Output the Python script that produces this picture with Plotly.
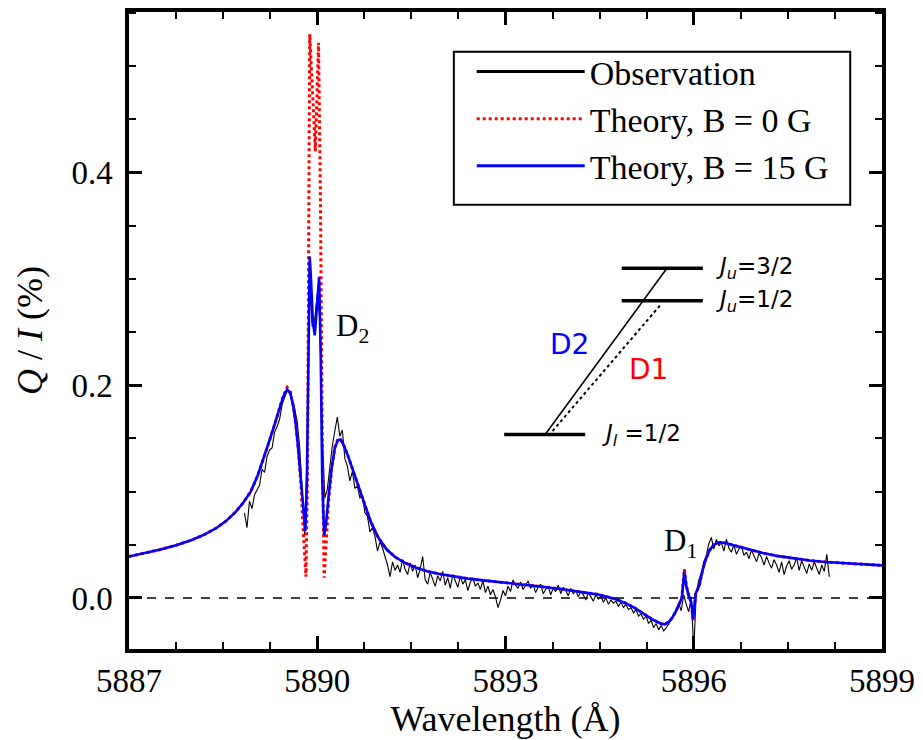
import plotly.graph_objects as go

# ---------------- data ----------------
obs_start = 5888.84
obs_step = 0.04
obs_q = [
    0.080, 0.066, 0.091, 0.084, 0.097, 0.101, 0.106, 0.121, 0.118, 0.133,
    0.139, 0.141, 0.156, 0.161, 0.168, 0.182, 0.189, 0.195, 0.192, 0.187,
    0.178, 0.166, 0.142, 0.104, 0.058, 0.140, 0.290, 0.255, 0.262, 0.286,
    0.262, 0.155, 0.094, 0.102, 0.125, 0.143, 0.157, 0.170, 0.152, 0.158,
    0.131, 0.124, 0.110, 0.119, 0.103, 0.105, 0.094, 0.096, 0.080, 0.077,
    0.062, 0.066, 0.058, 0.044, 0.053, 0.047, 0.039, 0.031, 0.020, 0.034,
    0.026, 0.031, 0.024, 0.036, 0.027, 0.022, 0.033, 0.025, 0.031, 0.019,
    0.027, 0.039, 0.017, 0.013, 0.024, 0.018, 0.011, 0.021, 0.016, 0.025,
    0.012, 0.019, 0.009, 0.022, 0.016, 0.010, 0.020, 0.013, 0.017, 0.007,
    0.015, 0.019, 0.011, 0.014, 0.008, 0.016, 0.005, 0.011, 0.003, 0.008,
    0.001, -0.009, -0.002, 0.007, 0.002, 0.011, 0.006, 0.017, 0.012, 0.009,
    0.015, 0.008, 0.012, 0.016, 0.009, 0.013, 0.005, 0.010, 0.013, 0.004,
    0.008, 0.011, 0.003, 0.009, 0.006, 0.012, 0.004, 0.010, 0.007, 0.002,
    0.009, 0.004, 0.007, 0.001, 0.006, 0.003, -0.002, 0.005, 0.001, -0.003,
    0.003, -0.001, 0.002, -0.004, 0.000, -0.006, -0.002, -0.005, -0.003, -0.008,
    -0.004, -0.009, -0.006, -0.011, -0.009, -0.014, -0.011, -0.017, -0.015, -0.020,
    -0.017, -0.024, -0.021, -0.028, -0.024, -0.030, -0.026, -0.031, -0.028, -0.025,
    -0.019, -0.017, -0.011, -0.005, -0.012, 0.003, -0.006, -0.013, 0.001, -0.049,
    0.004, 0.017, 0.023, 0.034, 0.040, 0.051, 0.057, 0.046, 0.055, 0.049,
    0.052, 0.044, 0.055, 0.047, 0.043, 0.050, 0.041, 0.046, 0.049, 0.040,
    0.043, 0.037, 0.045, 0.040, 0.034, 0.042, 0.038, 0.031, 0.039, 0.033,
    0.028, 0.036, 0.031, 0.024, 0.034, 0.022, 0.030, 0.035, 0.027, 0.031,
    0.038, 0.026, 0.035, 0.029, 0.023, 0.032, 0.026, 0.034, 0.028, 0.022,
    0.031, 0.025, 0.041, 0.020,
]
obs_wl = [round(obs_start + obs_step * i, 2) for i in range(len(obs_q))]

# Theory, B = 15 G
b15_wl = [
    5887.00, 5887.25, 5887.50, 5887.75, 5888.00, 5888.20, 5888.40, 5888.55, 5888.70, 5888.82,
    5888.94, 5889.05, 5889.15, 5889.25, 5889.33, 5889.40, 5889.46, 5889.52, 5889.57, 5889.62,
    5889.66, 5889.70, 5889.74, 5889.78, 5889.81, 5889.835, 5889.86, 5889.88, 5889.90, 5889.93,
    5889.96, 5889.99, 5890.03, 5890.055, 5890.08, 5890.11, 5890.14, 5890.18, 5890.23, 5890.28,
    5890.33, 5890.37, 5890.42, 5890.50, 5890.58, 5890.66, 5890.75, 5890.85, 5890.97, 5891.10,
    5891.24, 5891.40, 5891.55, 5891.75, 5891.95, 5892.15, 5892.40, 5892.65, 5892.90, 5893.15,
    5893.40, 5893.65, 5893.93, 5894.20, 5894.46, 5894.72, 5894.90, 5895.05, 5895.20, 5895.35,
    5895.47, 5895.54, 5895.60, 5895.66, 5895.72, 5895.77, 5895.81, 5895.85, 5895.88, 5895.92,
    5895.96, 5895.99, 5896.03, 5896.09, 5896.14, 5896.19, 5896.25, 5896.31, 5896.37, 5896.43,
    5896.52, 5896.62, 5896.75, 5896.90, 5897.10, 5897.35, 5897.60, 5897.85, 5898.10, 5898.40,
    5898.70, 5899.00,
]
b15_q = [
    0.0390, 0.0420, 0.0455, 0.0495, 0.0545, 0.0595, 0.0660, 0.0725, 0.0810, 0.0895,
    0.1000, 0.1150, 0.1320, 0.1500, 0.1650, 0.1790, 0.1895, 0.1960, 0.1930, 0.1800,
    0.1620, 0.1380, 0.1080, 0.0780, 0.0630, 0.1100, 0.2300, 0.3210, 0.3000, 0.2600,
    0.2470, 0.2750, 0.3020, 0.2300, 0.1100, 0.0590, 0.0700, 0.0950, 0.1220, 0.1410,
    0.1485, 0.1490, 0.1440, 0.1320, 0.1180, 0.1040, 0.0880, 0.0720, 0.0570, 0.0460,
    0.0385, 0.0330, 0.0290, 0.0252, 0.0226, 0.0204, 0.0182, 0.0165, 0.0150, 0.0136,
    0.0120, 0.0101, 0.0080, 0.0058, 0.0034, -0.0004, -0.0045, -0.0090, -0.0145, -0.0205,
    -0.0240, -0.0248, -0.0228, -0.0185, -0.0120, -0.0050, 0.0000, 0.0250, 0.0120, 0.0020,
    -0.0040, -0.0200, 0.0040, 0.0120, 0.0260, 0.0360, 0.0446, 0.0495, 0.0515, 0.0523,
    0.0515, 0.0497, 0.0475, 0.0450, 0.0422, 0.0393, 0.0370, 0.0352, 0.0338, 0.0325,
    0.0314, 0.0306,
]

# Theory, B = 0 G
b0_wl = [
    5887.00, 5887.25, 5887.50, 5887.75, 5888.00, 5888.20, 5888.40, 5888.55, 5888.70, 5888.82,
    5888.94, 5889.05, 5889.15, 5889.25, 5889.33, 5889.40, 5889.46, 5889.52, 5889.57, 5889.62,
    5889.66, 5889.70, 5889.74, 5889.78, 5889.82, 5889.845, 5889.865, 5889.88, 5889.93, 5889.97,
    5890.00, 5890.02, 5890.05, 5890.08, 5890.11, 5890.14, 5890.18, 5890.23, 5890.28, 5890.33,
    5890.37, 5890.42, 5890.50, 5890.58, 5890.66, 5890.75, 5890.85, 5890.97, 5891.10, 5891.24,
    5891.40, 5891.55, 5891.75, 5891.95, 5892.15, 5892.40, 5892.65, 5892.90, 5893.15, 5893.40,
    5893.65, 5893.93, 5894.20, 5894.46, 5894.72, 5894.90, 5895.05, 5895.20, 5895.35, 5895.47,
    5895.54, 5895.60, 5895.66, 5895.72, 5895.77, 5895.81, 5895.85, 5895.88, 5895.92, 5895.96,
    5895.99, 5896.03, 5896.09, 5896.14, 5896.19, 5896.25, 5896.31, 5896.37, 5896.43, 5896.52,
    5896.62, 5896.75, 5896.90, 5897.10, 5897.35, 5897.60, 5897.85, 5898.10, 5898.40, 5898.70,
    5899.00,
]
b0_q = [
    0.0390, 0.0420, 0.0455, 0.0495, 0.0545, 0.0595, 0.0660, 0.0725, 0.0810, 0.0895,
    0.1000, 0.1150, 0.1320, 0.1500, 0.1650, 0.1790, 0.1905, 0.1980, 0.1940, 0.1800,
    0.1620, 0.1380, 0.1060, 0.0600, 0.0200, 0.1200, 0.3500, 0.5300, 0.4700, 0.4200,
    0.4800, 0.5220, 0.3800, 0.1500, 0.0190, 0.0500, 0.0900, 0.1220, 0.1420, 0.1495,
    0.1495, 0.1440, 0.1320, 0.1180, 0.1040, 0.0880, 0.0720, 0.0570, 0.0460, 0.0385,
    0.0330, 0.0290, 0.0252, 0.0226, 0.0204, 0.0182, 0.0165, 0.0150, 0.0136, 0.0120,
    0.0101, 0.0080, 0.0058, 0.0034, -0.0004, -0.0045, -0.0090, -0.0145, -0.0205, -0.0240,
    -0.0248, -0.0228, -0.0185, -0.0120, -0.0050, 0.0000, 0.0270, 0.0120, 0.0020, -0.0040,
    -0.0220, 0.0040, 0.0120, 0.0260, 0.0360, 0.0446, 0.0495, 0.0515, 0.0523, 0.0515,
    0.0497, 0.0475, 0.0450, 0.0422, 0.0393, 0.0370, 0.0352, 0.0338, 0.0325, 0.0314,
    0.0306,
]

x_ticks = [5887, 5890, 5893, 5896, 5899]
y_ticks = [0.0, 0.2, 0.4]
y_tick_text = ["0.0", "0.2", "0.4"]
x_minor = [5887.75, 5888.5, 5889.25, 5890.75, 5891.5, 5892.25, 5893.75, 5894.5,
           5895.25, 5896.75, 5897.5, 5898.25]
y_minor = [-0.05, 0.05, 0.1, 0.15, 0.25, 0.3, 0.35, 0.45, 0.5, 0.55]

legend_names = ["Observation", "Theory, B = 0 G", "Theory, B = 15 G"]

SERIF = "Liberation Serif, Times New Roman, serif"
SANS = "DejaVu Sans, sans-serif"

fig = go.Figure()

# data traces
fig.add_trace(go.Scatter(x=obs_wl, y=obs_q, mode="lines", showlegend=False,
                         line=dict(color="black", width=1.1)))
fig.add_trace(go.Scatter(x=b0_wl, y=b0_q, mode="lines", showlegend=False,
                         line=dict(color="#ff0000", width=3, dash="dot")))
fig.add_trace(go.Scatter(x=b15_wl, y=b15_q, mode="lines", showlegend=False,
                         line=dict(color="#0000ff", width=2.6)))

# legend entries
leg_styles = [dict(color="black", width=3),
              dict(color="#ff0000", width=3, dash="dot"),
              dict(color="#0000ff", width=3)]
for i, (nm, st) in enumerate(zip(legend_names, leg_styles)):
    fig.add_trace(go.Scatter(x=[None], y=[None], mode="lines", name=nm, line=st,
                             legendgroup=f"g{i}", showlegend=True))

# legend frame
fig.add_shape(type="rect", xref="paper", yref="paper",
              x0=0.4314, x1=0.9578, y0=0.6973, y1=0.9376,
              line=dict(color="black", width=2), fillcolor="white", layer="above")

# zero line
fig.add_shape(type="line", xref="paper", x0=0, x1=1, yref="y", y0=0, y1=0,
              line=dict(color="black", width=1.5, dash="dash"), layer="below")

# energy level diagram
for (x0, x1, y) in [(5894.852, 5896.145, 0.310), (5894.852, 5896.145, 0.2794),
                    (5892.979, 5894.271, 0.1536)]:
    fig.add_shape(type="line", x0=x0, x1=x1, y0=y, y1=y,
                  line=dict(color="black", width=3.5))
fig.add_shape(type="line", x0=5893.638, y0=0.1542, x1=5895.564, y1=0.3093,
              line=dict(color="black", width=1.6))
fig.add_shape(type="line", x0=5893.75, y0=0.1570, x1=5895.485, y1=0.2766,
              line=dict(color="black", width=2, dash="dot"))

ann = []
ann.append(dict(x=5896.32, y=0.310, text="<i>J</i><sub><i>u</i></sub>=3/2",
                xanchor="left", yanchor="middle", showarrow=False,
                font=dict(family=SANS, size=23, color="black")))
ann.append(dict(x=5896.32, y=0.2794, text="<i>J</i><sub><i>u</i></sub>=1/2",
                xanchor="left", yanchor="middle", showarrow=False,
                font=dict(family=SANS, size=23, color="black")))
ann.append(dict(x=5894.50, y=0.1536, text="<i>J</i><sub><i>l</i></sub> =1/2",
                xanchor="left", yanchor="middle", showarrow=False,
                font=dict(family=SANS, size=23, color="black")))
ann.append(dict(x=5894.013, y=0.238, text="D2", xanchor="center", yanchor="middle",
                showarrow=False, font=dict(family=SANS, size=28, color="#0000ff")))
ann.append(dict(x=5895.271, y=0.2147, text="D1", xanchor="center", yanchor="middle",
                showarrow=False, font=dict(family=SANS, size=28, color="#ff0000")))
ann.append(dict(x=5890.27, y=0.254, text="D<sub>2</sub>", xanchor="left", yanchor="middle",
                showarrow=False, font=dict(family=SERIF, size=31, color="black")))
ann.append(dict(x=5895.50, y=0.052, text="D<sub>1</sub>", xanchor="left", yanchor="middle",
                showarrow=False, font=dict(family=SERIF, size=31, color="black")))

axis_common = dict(showline=True, linecolor="black", linewidth=3.5, mirror="ticks",
                   ticks="inside", tickcolor="black", tickwidth=3, ticklen=13,
                   showgrid=False, zeroline=False)

fig.update_layout(
    width=923, height=740,
    margin=dict(l=129, r=36, t=8, b=91),
    paper_bgcolor="white", plot_bgcolor="white",
    font=dict(family=SERIF, color="black", size=32),
    xaxis=dict(range=[5887, 5899], tickmode="array", tickvals=x_ticks,
               ticktext=[str(v) for v in x_ticks],
               tickfont=dict(family=SERIF, size=33),
               title=dict(text="Wavelength (Å)", font=dict(family=SERIF, size=36), standoff=4),
               minor=dict(tickvals=x_minor, ticks="inside", ticklen=7, tickwidth=2,
                          tickcolor="black", showgrid=False),
               **axis_common),
    yaxis=dict(range=[-0.048, 0.551], tickmode="array", tickvals=y_ticks,
               ticktext=y_tick_text, tickfont=dict(family=SERIF, size=33),
               ticklabelstandoff=6,
               title=dict(text="<i>Q</i> / <i>I</i> (%)", font=dict(family=SERIF, size=36),
                          standoff=19),
               minor=dict(tickvals=y_minor, ticks="inside", ticklen=7, tickwidth=2,
                          tickcolor="black", showgrid=False),
               **axis_common),
    legend=dict(x=0.4551, y=0.9516, xanchor="left", yanchor="top",
                borderwidth=0, bgcolor="rgba(0,0,0,0)",
                font=dict(family=SERIF, size=34), itemwidth=108,
                tracegroupgap=4, traceorder="normal"),
    annotations=ann,
)

fig.write_html("out.html")
